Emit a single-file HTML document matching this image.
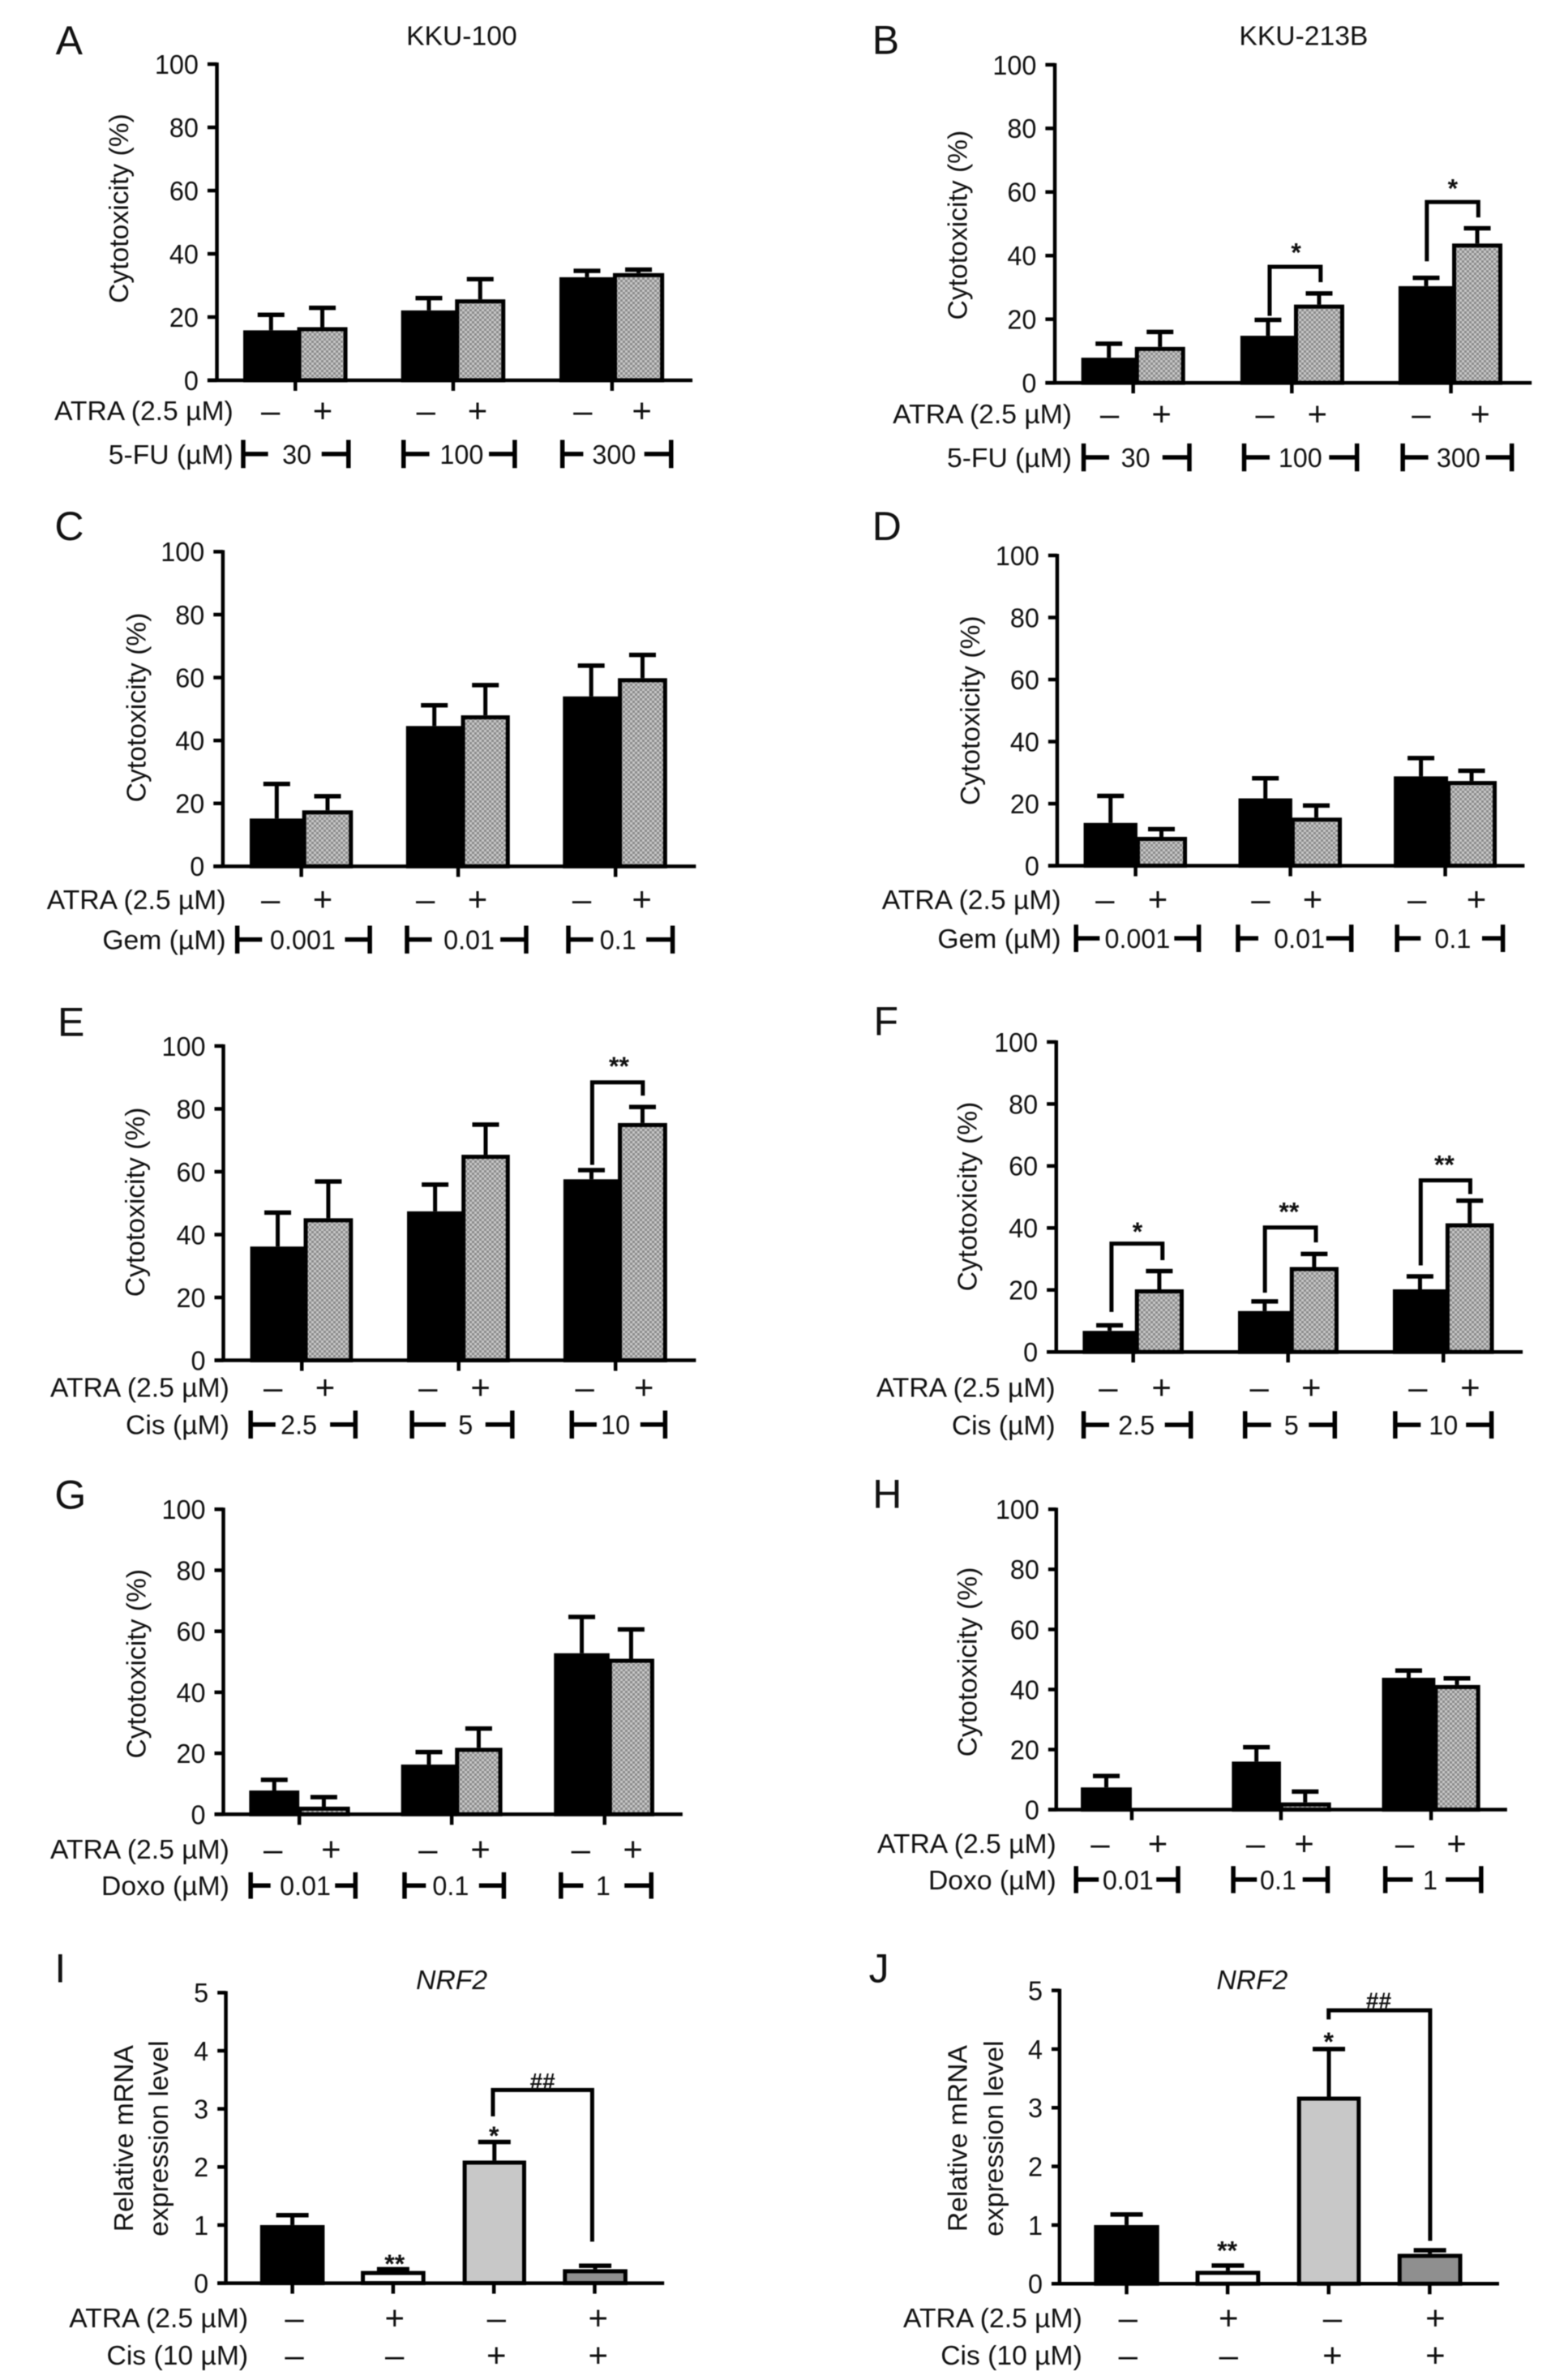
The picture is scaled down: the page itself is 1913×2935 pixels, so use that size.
<!DOCTYPE html>
<html lang="en">
<head>
<meta charset="utf-8">
<title>Cytotoxicity and NRF2 expression panels</title>
<style>
  html, body { margin: 0; padding: 0; background: #fff; }
  #figure { display: block; width: 1913px; height: 2935px; filter: blur(0.6px); }
  text { font-family: "Liberation Sans", Arial, sans-serif; fill: #111; }
</style>
</head>
<body>
<svg id="figure" xmlns="http://www.w3.org/2000/svg" width="1913" height="2935" viewBox="0 0 1913 2935">
  <defs>
    <pattern id="hatch" width="6" height="6" patternUnits="userSpaceOnUse">
      <rect width="6" height="6" fill="#c8c8c8"></rect>
      <rect x="0" y="0" width="3" height="3" fill="#8a8a8a"></rect>
      <rect x="3" y="3" width="3" height="3" fill="#8a8a8a"></rect>
    </pattern>
  </defs>
</svg>
<script>
/* ---------- chart data ---------- */
const pctTicks = [0, 20, 40, 60, 80, 100];
const foldTicks = [0, 1, 2, 3, 4, 5];

const fuDoses = ["30", "100", "300"];
const gemDoses = ["0.001", "0.01", "0.1"];
const cisDoses = ["2.5", "5", "10"];
const doxoDoses = ["0.01", "0.1", "1"];

/* means are ordered: dose1 -ATRA, dose1 +ATRA, dose2 -ATRA, ... ; upper = top of the error bar */
const aMeans = [15.8, 16.8, 22.1, 25.6, 32.6, 33.9];
const aUpper = [20.7, 22.9, 26, 32, 34.6, 35];
const bMeans = [7.9, 11.3, 14.8, 24.6, 30.4, 43.8];
const bUpper = [12.3, 16, 19.8, 28.1, 33, 48.6];
const cMeans = [15.2, 17.8, 44.6, 48, 54, 59.8];
const cUpper = [26.2, 22.3, 51.2, 57.6, 63.8, 67.2];
const dMeans = [13.8, 9.3, 21.7, 15.5, 28.8, 27.3];
const dUpper = [22.5, 11.8, 28.2, 19.4, 34.7, 30.6];
const eMeans = [36.2, 45.2, 47.4, 65.4, 57.6, 75.5];
const eUpper = [47, 56.9, 55.9, 75, 60.5, 80.6];
const fMeans = [6.8, 20.2, 13.2, 27.4, 20.2, 41.5];
const fUpper = [8.6, 26.1, 16.3, 31.6, 24.4, 48.8];
const gMeans = [7.8, 2.5, 16.3, 21.8, 52.8, 51];
const gUpper = [11.3, 5.6, 20.4, 28.1, 64.7, 60.6];
const hMeans = [7.4, 0, 16, 2.4, 43.9, 41.5];
const hUpper = [11.2, null, 20.8, 6, 46.3, 43.7];
const iMeans = [1.0, 0.21, 2.11, 0.24];
const iUpper = [1.17, 0.24, 2.43, 0.3];
const jMeans = [1.0, 0.22, 3.19, 0.51];
const jUpper = [1.18, 0.31, 4.0, 0.57];

const atraSigns = ["–", "+", "–", "+", "–", "+"];
const qpcrAtraSigns = ["–", "+", "–", "+"];
const qpcrCisSigns = ["–", "–", "+", "+"];

/* ---------- layout (measured on crops of the reference, mapped by px/py) ---------- */
const CROP_SCALE = 1568;
const layouts = {
  a: {crop:[0,0,960,620], letter:"A", letterPos:[112,170], title:"KKU-100", titlePos:[930,140], ax:437, xs:418, xe:1395, top:200, y0:1186,
      L:[490,808,1127], M:[602,920,1238], R:[700,1018,1338], ticks:[595,913,1233], signs:[545,650,858,962,1174,1293], signY:1280, labelX:470,
      drug:"5-FU (µM)", brY:[1372,1460], brackets:[[490,540,598,648,702],[813,865,930,985,1037],[1133,1175,1237,1298,1352]], axisTitle:[240,650], sig:[]},
  b: {crop:[1000,0,913,620], letter:"B", letterPos:[130,168], title:"KKU-213B", titlePos:[1044,140], ax:517, xs:497, xe:1527, top:202, y0:1194,
      L:[573,910,1245], M:[690,1027,1362], R:[793,1130,1465], ticks:[683,1019,1356], signs:[633,743,962,1073,1293,1418], signY:1290, labelX:553,
      drug:"5-FU (µM)", brY:[1383,1470], brackets:[[578,632,688,745,802],[918,972,1037,1098,1157],[1254,1308,1372,1430,1485]], axisTitle:[312,702],
      sig:[[972,1080,832,985,880,"*",1028,770],[1305,1414,630,815,678,"*",1360,570]]},
  c: {crop:[0,600,960,600], letter:"C", letterPos:[110,172], ax:449, xs:430, xe:1402, top:210, y0:1224,
      L:[503,818,1134], M:[612,932,1248], R:[711,1027,1344], ticks:[607,923,1240], signs:[545,650,857,962,1172,1293], signY:1330, labelX:455,
      drug:"Gem (µM)", brY:[1415,1505], brackets:[[478,528,610,695,745],[820,870,945,1008,1060],[1145,1195,1245,1302,1355]], axisTitle:[275,712], sig:[]},
  d: {crop:[1000,600,913,600], letter:"D", letterPos:[130,172], ax:522, xs:503, xe:1512, top:222, y0:1222,
      L:[578,906,1235], M:[692,1020,1350], R:[797,1125,1453], ticks:[688,1016,1344], signs:[623,735,953,1063,1284,1410], signY:1330, labelX:530,
      drug:"Gem (µM)", brY:[1412,1500], brackets:[[562,612,692,770,822],[905,948,1035,1092,1145],[1242,1292,1360,1422,1466]], axisTitle:[338,722], sig:[]},
  e: {crop:[0,1200,960,600], letter:"E", letterPos:[116,203], ax:450, xs:432, xe:1402, top:235, y0:1248,
      L:[504,820,1135], M:[615,933,1248], R:[711,1027,1344], ticks:[608,924,1240], signs:[550,655,862,968,1178,1297], signY:1335, labelX:462,
      drug:"Cis (µM)", brY:[1410,1500], brackets:[[505,555,602,665,716],[830,898,938,978,1032],[1152,1202,1240,1290,1340]], axisTitle:[273,738],
      sig:[[1193,1295,352,618,395,"**",1247,283]]},
  f: {crop:[1000,1200,913,600], letter:"F", letterPos:[133,200], ax:520, xs:500, xe:1508, top:222, y0:1221,
      L:[576,905,1233], M:[690,1018,1348], R:[790,1118,1447], ticks:[683,1011,1340], signs:[630,743,950,1060,1286,1397], signY:1335, labelX:518,
      drug:"Cis (µM)", brY:[1412,1500], brackets:[[578,632,690,750,805],[920,975,1018,1055,1110],[1238,1292,1340,1388,1442]], axisTitle:[332,720],
      sig:[[637,745,872,1092,925,"*",692,815],[962,1070,820,1030,868,"**",1013,752],[1292,1397,668,942,712,"**",1342,600]]},
  g: {crop:[0,1800,960,600], letter:"G", letterPos:[110,158], ax:450, xs:432, xe:1375, top:160, y0:1143,
      L:[502,808,1116], M:[603,920,1228], R:[705,1012,1318], ticks:[603,910,1218], signs:[550,667,862,968,1170,1275], signY:1255, labelX:462,
      drug:"Doxo (µM)", brY:[1330,1415], brackets:[[505,545,615,675,716],[815,858,908,965,1015],[1130,1175,1215,1258,1312]], axisTitle:[275,658], sig:[]},
  h: {crop:[1000,1800,913,600], letter:"H", letterPos:[131,155], ax:520, xs:503, xe:1475, top:160, y0:1128,
      L:[572,892,1210], M:[680,996,1323], R:[780,1102,1418], ticks:[680,996,1314], signs:[613,735,942,1045,1258,1368], signY:1237, labelX:520,
      drug:"Doxo (µM)", brY:[1310,1397], brackets:[[562,610,672,732,778],[895,945,990,1042,1095],[1217,1275,1312,1345,1420]], axisTitle:[332,652], sig:[]},
  i: {crop:[0,2400,960,535], letter:"I", letterPos:[110,130], title:"NRF2", titlePos:[910,155], ax:455, xs:438, xe:1338, top:168, y0:1218,
      bars:[[524,654],[727,857],[932,1060],[1134,1264]], ticks:[589,792,995,1198], signs:[593,795,1000,1205], rows:[1343,1478], labelX:500,
      axisTitles:[250,320], axisY:695, sig:[[993,1193,520,615,1068,"##",1093,487]], marks:[["**",795,1128],["*",995,665]]},
  j: {crop:[1000,2400,913,535], letter:"J", letterPos:[123,130], title:"NRF2", titlePos:[935,155], ax:527, xs:510, xe:1458, top:160, y0:1220,
      bars:[[600,738],[815,952],[1030,1165],[1243,1380]], ticks:[669,883,1097,1311], signs:[672,885,1105,1323], rows:[1343,1478], labelX:575,
      axisTitles:[312,388], axisY:695, sig:[[1097,1312,232,265,1065,"##",1203,195]], marks:[["**",882,1080],["*",1097,325]]}
};

/* ---------- helpers ---------- */
const NS = "http://www.w3.org/2000/svg";
const svg = document.getElementById("figure");

function node(tag, parent, attrs) {
  const n = document.createElementNS(NS, tag);
  for (const k in attrs) n.setAttribute(k, attrs[k]);
  parent.appendChild(n);
  return n;
}
function seg(parent, x1, y1, x2, y2, w) {
  return node("line", parent, {x1: x1, y1: y1, x2: x2, y2: y2, stroke: "#000", "stroke-width": w});
}
function label(parent, str, x, y, anchor, size, stretch, extra) {
  const t = node("text", parent, Object.assign({x: x, y: y, "text-anchor": anchor, "font-size": size}, extra || {}));
  t.textContent = str;
  if (stretch && stretch !== 1) {
    const len = t.getComputedTextLength();
    t.setAttribute("textLength", (len * stretch).toFixed(1));
    t.setAttribute("lengthAdjust", "spacingAndGlyphs");
  }
  return t;
}
function makeAxes(l, yMax) {
  const [cx, cy, cw, ch] = l.crop;
  const px = z => cx + z * cw / CROP_SCALE;
  const py = z => cy + z * ch / CROP_SCALE;
  const yv = v => py(l.y0 - (v / yMax) * (l.y0 - l.top));
  return {px, py, yv};
}
const FONT = 33, WORD_STRETCH = 1.02, DIGIT_STRETCH = 0.98, SIGN_FONT = 42;

function drawFrame(g, key, l, s, ticks, yMax) {
  const letter = label(g, l.letter, s.px(l.letterPos[0]), s.py(l.letterPos[1]), "start", 50, 1);
  
  
  if (l.title) {
    const tt = label(g, l.title, s.px(l.titlePos[0]), s.py(l.titlePos[1]), "middle", FONT, WORD_STRETCH,
      l.title === "NRF2" ? {"font-style": "italic"} : {});
    
    
  }
  const yAxis = seg(g, s.px(l.ax), s.yv(yMax) - 2, s.px(l.ax), s.yv(0) + 2, 4.5);
  
  
  ticks.forEach(v => {
    const tk = seg(g, s.px(l.xs), s.yv(v), s.px(l.ax), s.yv(v), 4.5);
    
    
    const tl = label(g, String(v), s.px(l.xs) - 11, s.yv(v) + FONT * 0.36, "end", FONT, DIGIT_STRETCH);
    
    
  });
}
function drawBar(g, name, x1, x2, yTop, yBase, fill, upperY, capW) {
  const mid = (x1 + x2) / 2;
  if (upperY !== null) {
    const stem = seg(g, mid, upperY, mid, yTop, 5);
    
    
    const cap = seg(g, mid - capW / 2, upperY, mid + capW / 2, upperY, 5.5);
    
    
  }
  const r = node("rect", g, {
    x: x1 + 2.5, y: yTop + 2.5 > yBase ? yBase : yTop + 2.5,
    width: Math.max(0, x2 - x1 - 5), height: Math.max(0, yBase - yTop - 2.5),
    fill: fill, stroke: "#000", "stroke-width": 5
  });
  
  
}
function drawSig(g, key, l, s) {
  l.sig.forEach((b, i) => {
    const p = node("polyline", g, {
      points: [s.px(b[0]), s.py(b[3]), s.px(b[0]), s.py(b[2]), s.px(b[1]), s.py(b[2]), s.px(b[1]), s.py(b[4])].join(","),
      fill: "none", stroke: "#000", "stroke-width": 5
    });
    
    
    drawMark(g, key, s, b[5], b[6], b[7]);
  });
}
function drawMark(g, key, s, str, zx, zy) {
  const isHash = str.indexOf("#") >= 0;
  const size = isHash ? 28 : 32;
  const off = isHash ? size * 0.36 : size * 0.56;
  const m = label(g, str, s.px(zx), s.py(zy) + off, "middle", size, 1, {"font-weight": "bold"});
  
  
}
function drawXAxis(g, key, l, s) {
  const xAxis = seg(g, s.px(l.xs), s.yv(0), s.px(l.xe), s.yv(0), 4.5);
  
  
  l.ticks.forEach((t, i) => {
    const tk = seg(g, s.px(t), s.yv(0), s.px(t), s.yv(0) + 13, 4.5);
    
    
  });
}

/* ---------- cytotoxicity panels ---------- */
function drawCytotoxicity(key, means, upper, doses) {
  const l = layouts[key];
  const s = makeAxes(l, 100);
  const g = node("g", svg, {});
  
  
  drawFrame(g, key, l, s, pctTicks, 100);

  const yt = label(g, "Cytotoxicity (%)", 0, 0, "middle", FONT, WORD_STRETCH,
    {transform: "translate(" + (s.px(l.axisTitle[0]) + 11) + "," + s.py(l.axisTitle[1]) + ") rotate(-90)"});
  
  

  doses.forEach((dose, i) => {
    const v0 = i * 2, v1 = i * 2 + 1;
    drawBar(g, key + "-" + dose + "-control", s.px(l.L[i]), s.px(l.M[i]), s.yv(means[v0]), s.yv(0), "#000",
      upper[v0] === null ? null : s.yv(upper[v0]), 33);
    drawBar(g, key + "-" + dose + "-atra", s.px(l.M[i]) - 2, s.px(l.R[i]), s.yv(means[v1]), s.yv(0), "url(#hatch)",
      upper[v1] === null ? null : s.yv(upper[v1]), 33);
  });
  drawXAxis(g, key, l, s);
  drawSig(g, key, l, s);

  const atra = label(g, "ATRA (2.5 µM)", s.px(l.labelX), s.py(l.signY) + FONT * 0.36, "end", FONT, WORD_STRETCH);
  
  
  atraSigns.forEach((sign, i) => {
    const t = label(g, sign, s.px(l.signs[i]), s.py(l.signY) + SIGN_FONT * 0.34, "middle", SIGN_FONT, 1);
    
    
  });

  const midY = (l.brY[0] + l.brY[1]) / 2;
  const dl = label(g, l.drug, s.px(l.labelX), s.py(midY) + FONT * 0.36, "end", FONT, WORD_STRETCH);
  
  
  doses.forEach((dose, i) => {
    const b = l.brackets[i];
    const br = node("path", g, {
      d: "M" + s.px(b[0]) + " " + s.py(l.brY[0]) + "V" + s.py(l.brY[1]) +
         "M" + s.px(b[0]) + " " + s.py(midY) + "H" + s.px(b[1]) +
         "M" + s.px(b[3]) + " " + s.py(midY) + "H" + s.px(b[4]) +
         "M" + s.px(b[4]) + " " + s.py(l.brY[0]) + "V" + s.py(l.brY[1]),
      fill: "none", stroke: "#000", "stroke-width": 5.5
    });
    
    
    const t = label(g, dose, s.px(b[2]), s.py(midY) + FONT * 0.36, "middle", FONT, DIGIT_STRETCH);
    
    
  });
}

/* ---------- qPCR panels ---------- */
const qpcrFills = ["#000", "#fff", "#c8c8c8", "#8f8f8f"];
function drawExpression(key, means, upper) {
  const l = layouts[key];
  const s = makeAxes(l, 5);
  const g = node("g", svg, {});
  
  
  drawFrame(g, key, l, s, foldTicks, 5);

  const t1 = label(g, "Relative mRNA", 0, 0, "middle", FONT, WORD_STRETCH,
    {transform: "translate(" + (s.px(l.axisTitles[0]) + 11) + "," + s.py(l.axisY) + ") rotate(-90)"});
  
  
  const t2 = label(g, "expression level", 0, 0, "middle", FONT, WORD_STRETCH,
    {transform: "translate(" + (s.px(l.axisTitles[1]) + 11) + "," + s.py(l.axisY) + ") rotate(-90)"});
  
  

  means.forEach((m, i) => {
    drawBar(g, key + "-group-" + (i + 1), s.px(l.bars[i][0]), s.px(l.bars[i][1]), s.yv(m), s.yv(0), qpcrFills[i],
      s.yv(upper[i]), 40);
  });
  drawXAxis(g, key, l, s);
  drawSig(g, key, l, s);
  l.marks.forEach(m => drawMark(g, key, s, m[0], m[1], m[2]));

  const rows = [["ATRA (2.5 µM)", qpcrAtraSigns, "atra"], ["Cis (10 µM)", qpcrCisSigns, "cis"]];
  rows.forEach((row, r) => {
    const lb = label(g, row[0], s.px(l.labelX), s.py(l.rows[r]) + FONT * 0.36, "end", FONT, WORD_STRETCH);
    
    
    row[1].forEach((sign, i) => {
      const t = label(g, sign, s.px(l.signs[i]), s.py(l.rows[r]) + SIGN_FONT * 0.34, "middle", SIGN_FONT, 1);
      
      
    });
  });
}

drawCytotoxicity("a", aMeans, aUpper, fuDoses);
drawCytotoxicity("b", bMeans, bUpper, fuDoses);
drawCytotoxicity("c", cMeans, cUpper, gemDoses);
drawCytotoxicity("d", dMeans, dUpper, gemDoses);
drawCytotoxicity("e", eMeans, eUpper, cisDoses);
drawCytotoxicity("f", fMeans, fUpper, cisDoses);
drawCytotoxicity("g", gMeans, gUpper, doxoDoses);
drawCytotoxicity("h", hMeans, hUpper, doxoDoses);
drawExpression("i", iMeans, iUpper);
drawExpression("j", jMeans, jUpper);
</script>
</body>
</html>
